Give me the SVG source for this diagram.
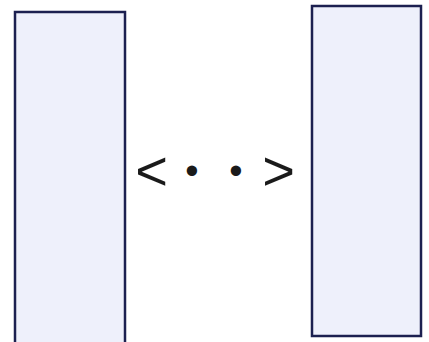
<svg xmlns="http://www.w3.org/2000/svg" width="429" height="342" viewBox="0 0 429 342">
<style>
.box{fill:#eef0fb;stroke:#1c2050;stroke-width:2.5}
.sym{font-family:"Liberation Sans",Arial,sans-serif;fill:#1a1a1a;text-anchor:middle}
</style>
<rect width="429" height="342" fill="#ffffff"/>
<g id="node-left"><rect class="box" x="15" y="12" width="110" height="340"/></g>
<g id="node-right"><rect class="box" x="312" y="6" width="109" height="330"/></g>
<g id="label">
<text class="sym" x="151.5" y="190" font-size="56">&lt;</text>
<text class="sym" x="192" y="184" font-size="38">•</text>
<text class="sym" x="236" y="184" font-size="38">•</text>
<text class="sym" x="278.5" y="190" font-size="56">&gt;</text>
</g>
</svg>
